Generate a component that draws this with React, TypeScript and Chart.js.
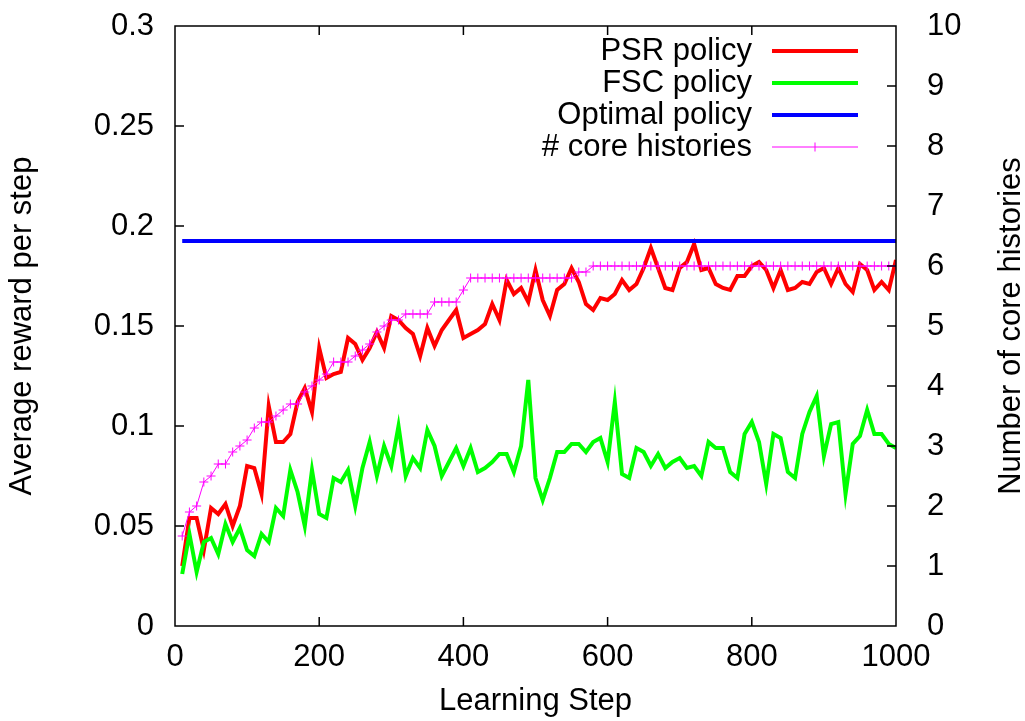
import React, { useEffect, useRef } from "react";
import { Chart, registerables } from "chart.js";

Chart.register(...registerables);

const FONT = '"Liberation Sans", Arial, Helvetica, sans-serif';
const FS = 31;

const steps = [
  10, 20, 30, 40, 50, 60, 70, 80, 90, 100,
  110, 120, 130, 140, 150, 160, 170, 180, 190, 200,
  210, 220, 230, 240, 250, 260, 270, 280, 290, 300,
  310, 320, 330, 340, 350, 360, 370, 380, 390, 400,
  410, 420, 430, 440, 450, 460, 470, 480, 490, 500,
  510, 520, 530, 540, 550, 560, 570, 580, 590, 600,
  610, 620, 630, 640, 650, 660, 670, 680, 690, 700,
  710, 720, 730, 740, 750, 760, 770, 780, 790, 800,
  810, 820, 830, 840, 850, 860, 870, 880, 890, 900,
  910, 920, 930, 940, 950, 960, 970, 980, 990, 1000,
];

const psrPolicy = [
  0.030, 0.054, 0.054, 0.038, 0.059, 0.056, 0.061, 0.050, 0.060, 0.080,
  0.079, 0.066, 0.110, 0.092, 0.092, 0.096, 0.112, 0.119, 0.107, 0.139,
  0.124, 0.126, 0.127, 0.144, 0.141, 0.133, 0.139, 0.147, 0.139, 0.155,
  0.153, 0.149, 0.146, 0.135, 0.149, 0.140, 0.148, 0.153, 0.158, 0.144,
  0.146, 0.148, 0.151, 0.161, 0.153, 0.173, 0.166, 0.169, 0.162, 0.178,
  0.163, 0.155, 0.168, 0.171, 0.179, 0.172, 0.161, 0.158, 0.164, 0.163,
  0.166, 0.173, 0.168, 0.171, 0.179, 0.189, 0.179, 0.169, 0.168, 0.179,
  0.182, 0.191, 0.178, 0.179, 0.171, 0.169, 0.168, 0.175, 0.175, 0.180,
  0.182, 0.178, 0.169, 0.178, 0.168, 0.169, 0.172, 0.171, 0.177, 0.179,
  0.171, 0.179, 0.171, 0.167, 0.181, 0.178, 0.168, 0.172, 0.168, 0.183,
];

const fscPolicy = [
  0.026, 0.046, 0.027, 0.042, 0.044, 0.036, 0.051, 0.042, 0.049, 0.038,
  0.035, 0.046, 0.042, 0.059, 0.055, 0.078, 0.067, 0.050, 0.078, 0.056,
  0.054, 0.074, 0.072, 0.078, 0.060, 0.079, 0.092, 0.075, 0.090, 0.080,
  0.100, 0.075, 0.084, 0.079, 0.098, 0.090, 0.075, 0.082, 0.089, 0.080,
  0.089, 0.077, 0.079, 0.082, 0.086, 0.086, 0.077, 0.090, 0.123, 0.074,
  0.063, 0.074, 0.087, 0.087, 0.091, 0.091, 0.087, 0.092, 0.094, 0.082,
  0.112, 0.076, 0.074, 0.089, 0.087, 0.080, 0.086, 0.079, 0.082, 0.084,
  0.079, 0.080, 0.075, 0.092, 0.089, 0.089, 0.077, 0.074, 0.096, 0.102,
  0.092, 0.071, 0.096, 0.094, 0.077, 0.074, 0.096, 0.107, 0.115, 0.085,
  0.101, 0.102, 0.066, 0.091, 0.095, 0.108, 0.096, 0.096, 0.091, 0.089,
];

const optimalSteps = [10, 1000];
const optimalPolicy = [0.1925, 0.1925];

const coreHistories = [
  1.5, 1.9, 2.0, 2.4, 2.5, 2.7, 2.7, 2.9, 3.0, 3.1,
  3.3, 3.4, 3.4, 3.5, 3.6, 3.7, 3.7, 3.9, 4.0, 4.1,
  4.2, 4.4, 4.4, 4.4, 4.5, 4.6, 4.7, 4.9, 5.0, 5.1,
  5.1, 5.2, 5.2, 5.2, 5.2, 5.4, 5.4, 5.4, 5.4, 5.6,
  5.8, 5.8, 5.8, 5.8, 5.8, 5.8, 5.8, 5.8, 5.8, 5.8,
  5.8, 5.8, 5.8, 5.8, 5.8, 5.9, 5.9, 6.0, 6.0, 6.0,
  6.0, 6.0, 6.0, 6.0, 6.0, 6.0, 6.0, 6.0, 6.0, 6.0,
  6.0, 6.0, 6.0, 6.0, 6.0, 6.0, 6.0, 6.0, 6.0, 6.0,
  6.0, 6.0, 6.0, 6.0, 6.0, 6.0, 6.0, 6.0, 6.0, 6.0,
  6.0, 6.0, 6.0, 6.0, 6.0, 6.0, 6.0, 6.0, 6.0, 6.0,
];

const seriesLabels = ["PSR policy", "FSC policy", "Optimal policy", "# core histories"];
const xTitle = "Learning Step";
const yTitle = "Average reward per step";
const y2Title = "Number of core histories";

const toPoints = (xs: number[], ys: number[]) => xs.map((x, i) => ({ x, y: ys[i] }));

const framePlugin = {
  id: "gnuFrame",
  afterDatasetsDraw(chart: any) {
    const { ctx, chartArea } = chart;
    const { left, right, top, bottom } = chartArea;
    const sx = chart.scales.x;
    const sy = chart.scales.y;
    const sy2 = chart.scales.y2;
    const tl = 9;
    ctx.save();
    ctx.strokeStyle = "#000";
    ctx.lineWidth = 1.5;
    ctx.beginPath();
    ctx.rect(left, top, right - left, bottom - top);
    sx.ticks.forEach((t: any) => {
      const p = sx.getPixelForValue(t.value);
      ctx.moveTo(p, bottom);
      ctx.lineTo(p, bottom - tl);
      ctx.moveTo(p, top);
      ctx.lineTo(p, top + tl);
    });
    sy.ticks.forEach((t: any) => {
      const p = sy.getPixelForValue(t.value);
      ctx.moveTo(left, p);
      ctx.lineTo(left + tl, p);
    });
    sy2.ticks.forEach((t: any) => {
      const p = sy2.getPixelForValue(t.value);
      ctx.moveTo(right, p);
      ctx.lineTo(right - tl, p);
    });
    ctx.stroke();

    // right axis title, reading bottom-to-top like gnuplot
    ctx.fillStyle = "#000";
    ctx.font = `${FS}px ${FONT}`;
    ctx.textAlign = "center";
    ctx.textBaseline = "alphabetic";
    ctx.translate(1020, (top + bottom) / 2);
    ctx.rotate(-Math.PI / 2);
    ctx.fillText(y2Title, 0, 0);
    ctx.restore();
  },
};

const legendPlugin = {
  id: "gnuLegend",
  afterDraw(chart: any) {
    const { ctx } = chart;
    const textRight = 752;
    const lineStart = 772;
    const lineEnd = 858;
    const firstY = 51;
    const rowH = 32;
    ctx.save();
    ctx.font = `${FS}px ${FONT}`;
    ctx.textAlign = "right";
    ctx.textBaseline = "middle";
    chart.data.datasets.forEach((ds: any, i: number) => {
      const y = firstY + i * rowH;
      ctx.fillStyle = "#000";
      ctx.fillText(ds.label, textRight, y);
      ctx.strokeStyle = ds.borderColor;
      ctx.lineWidth = ds.borderWidth;
      ctx.beginPath();
      ctx.moveTo(lineStart, y);
      ctx.lineTo(lineEnd, y);
      if (ds.pointStyle === "cross") {
        const cx = (lineStart + lineEnd) / 2;
        const r = ds.pointRadius;
        ctx.moveTo(cx, y - r);
        ctx.lineTo(cx, y + r);
      }
      ctx.stroke();
    });
    ctx.restore();
  },
};

export default function App() {
  const canvasRef = useRef<HTMLCanvasElement | null>(null);

  useEffect(() => {
    if (!canvasRef.current) return;
    Chart.defaults.font.family = FONT;
    Chart.defaults.color = "#000";

    const chart = new Chart(canvasRef.current, {
      type: "line",
      data: {
        datasets: [
          {
            label: seriesLabels[0],
            data: toPoints(steps, psrPolicy),
            borderColor: "#ff0000",
            backgroundColor: "#ff0000",
            borderWidth: 4,
            pointRadius: 0,
            yAxisID: "y",
            order: 4,
          },
          {
            label: seriesLabels[1],
            data: toPoints(steps, fscPolicy),
            borderColor: "#00ff00",
            backgroundColor: "#00ff00",
            borderWidth: 4,
            pointRadius: 0,
            yAxisID: "y",
            order: 3,
          },
          {
            label: seriesLabels[2],
            data: toPoints(optimalSteps, optimalPolicy),
            borderColor: "#0000ff",
            backgroundColor: "#0000ff",
            borderWidth: 4,
            pointRadius: 0,
            yAxisID: "y",
            order: 2,
          },
          {
            label: seriesLabels[3],
            data: toPoints(steps, coreHistories),
            borderColor: "#ff00ff",
            backgroundColor: "#ff00ff",
            borderWidth: 1,
            pointStyle: "cross",
            pointRadius: 4.5,
            pointBorderWidth: 1,
            pointBorderColor: "#ff00ff",
            yAxisID: "y2",
            order: 1,
          },
        ] as any,
      },
      options: {
        animation: false,
        responsive: false,
        devicePixelRatio: 1,
        events: [],
        layout: { padding: { top: 26, left: 0, right: 0, bottom: 0 } },
        plugins: {
          legend: { display: false },
          tooltip: { enabled: false },
        },
        scales: {
          x: {
            type: "linear",
            min: 0,
            max: 1000,
            ticks: {
              stepSize: 200,
              padding: 13,
              maxRotation: 0,
              font: { size: FS, lineHeight: 1.2 },
              callback: (v: any) => String(v),
            },
            grid: { display: false, drawTicks: false },
            border: { display: false },
            title: {
              display: true,
              text: xTitle,
              font: { size: FS, lineHeight: 1.2 },
              padding: { top: 0, bottom: 1 },
            },
            afterFit: (s: any) => {
              s.height = 95;
            },
          },
          y: {
            type: "linear",
            position: "left",
            min: 0,
            max: 0.3,
            ticks: {
              stepSize: 0.05,
              padding: 21,
              font: { size: FS, lineHeight: 1.2 },
              callback: (v: any) => String(Math.round(Number(v) * 100) / 100),
            },
            grid: { display: false, drawTicks: false },
            border: { display: false },
            title: {
              display: true,
              text: yTitle,
              font: { size: FS, lineHeight: 1.2 },
              padding: { top: 4, bottom: 0 },
            },
            afterFit: (s: any) => {
              s.width = 175;
              s.paddingTop = 0;
              s.paddingBottom = 0;
            },
          },
          y2: {
            type: "linear",
            position: "right",
            min: 0,
            max: 10,
            ticks: {
              stepSize: 1,
              padding: 31,
              font: { size: FS, lineHeight: 1.2 },
            },
            grid: { display: false, drawTicks: false },
            border: { display: false },
            afterFit: (s: any) => {
              s.width = 129;
              s.paddingTop = 0;
              s.paddingBottom = 0;
            },
          },
        },
      } as any,
      plugins: [framePlugin, legendPlugin],
    });

    return () => chart.destroy();
  }, []);

  return (
    <div style={{ position: "absolute", left: 0, top: 0, width: 1025, height: 721, background: "#fff" }}>
      <canvas ref={canvasRef} width={1025} height={721} style={{ display: "block" }} />
    </div>
  );
}
